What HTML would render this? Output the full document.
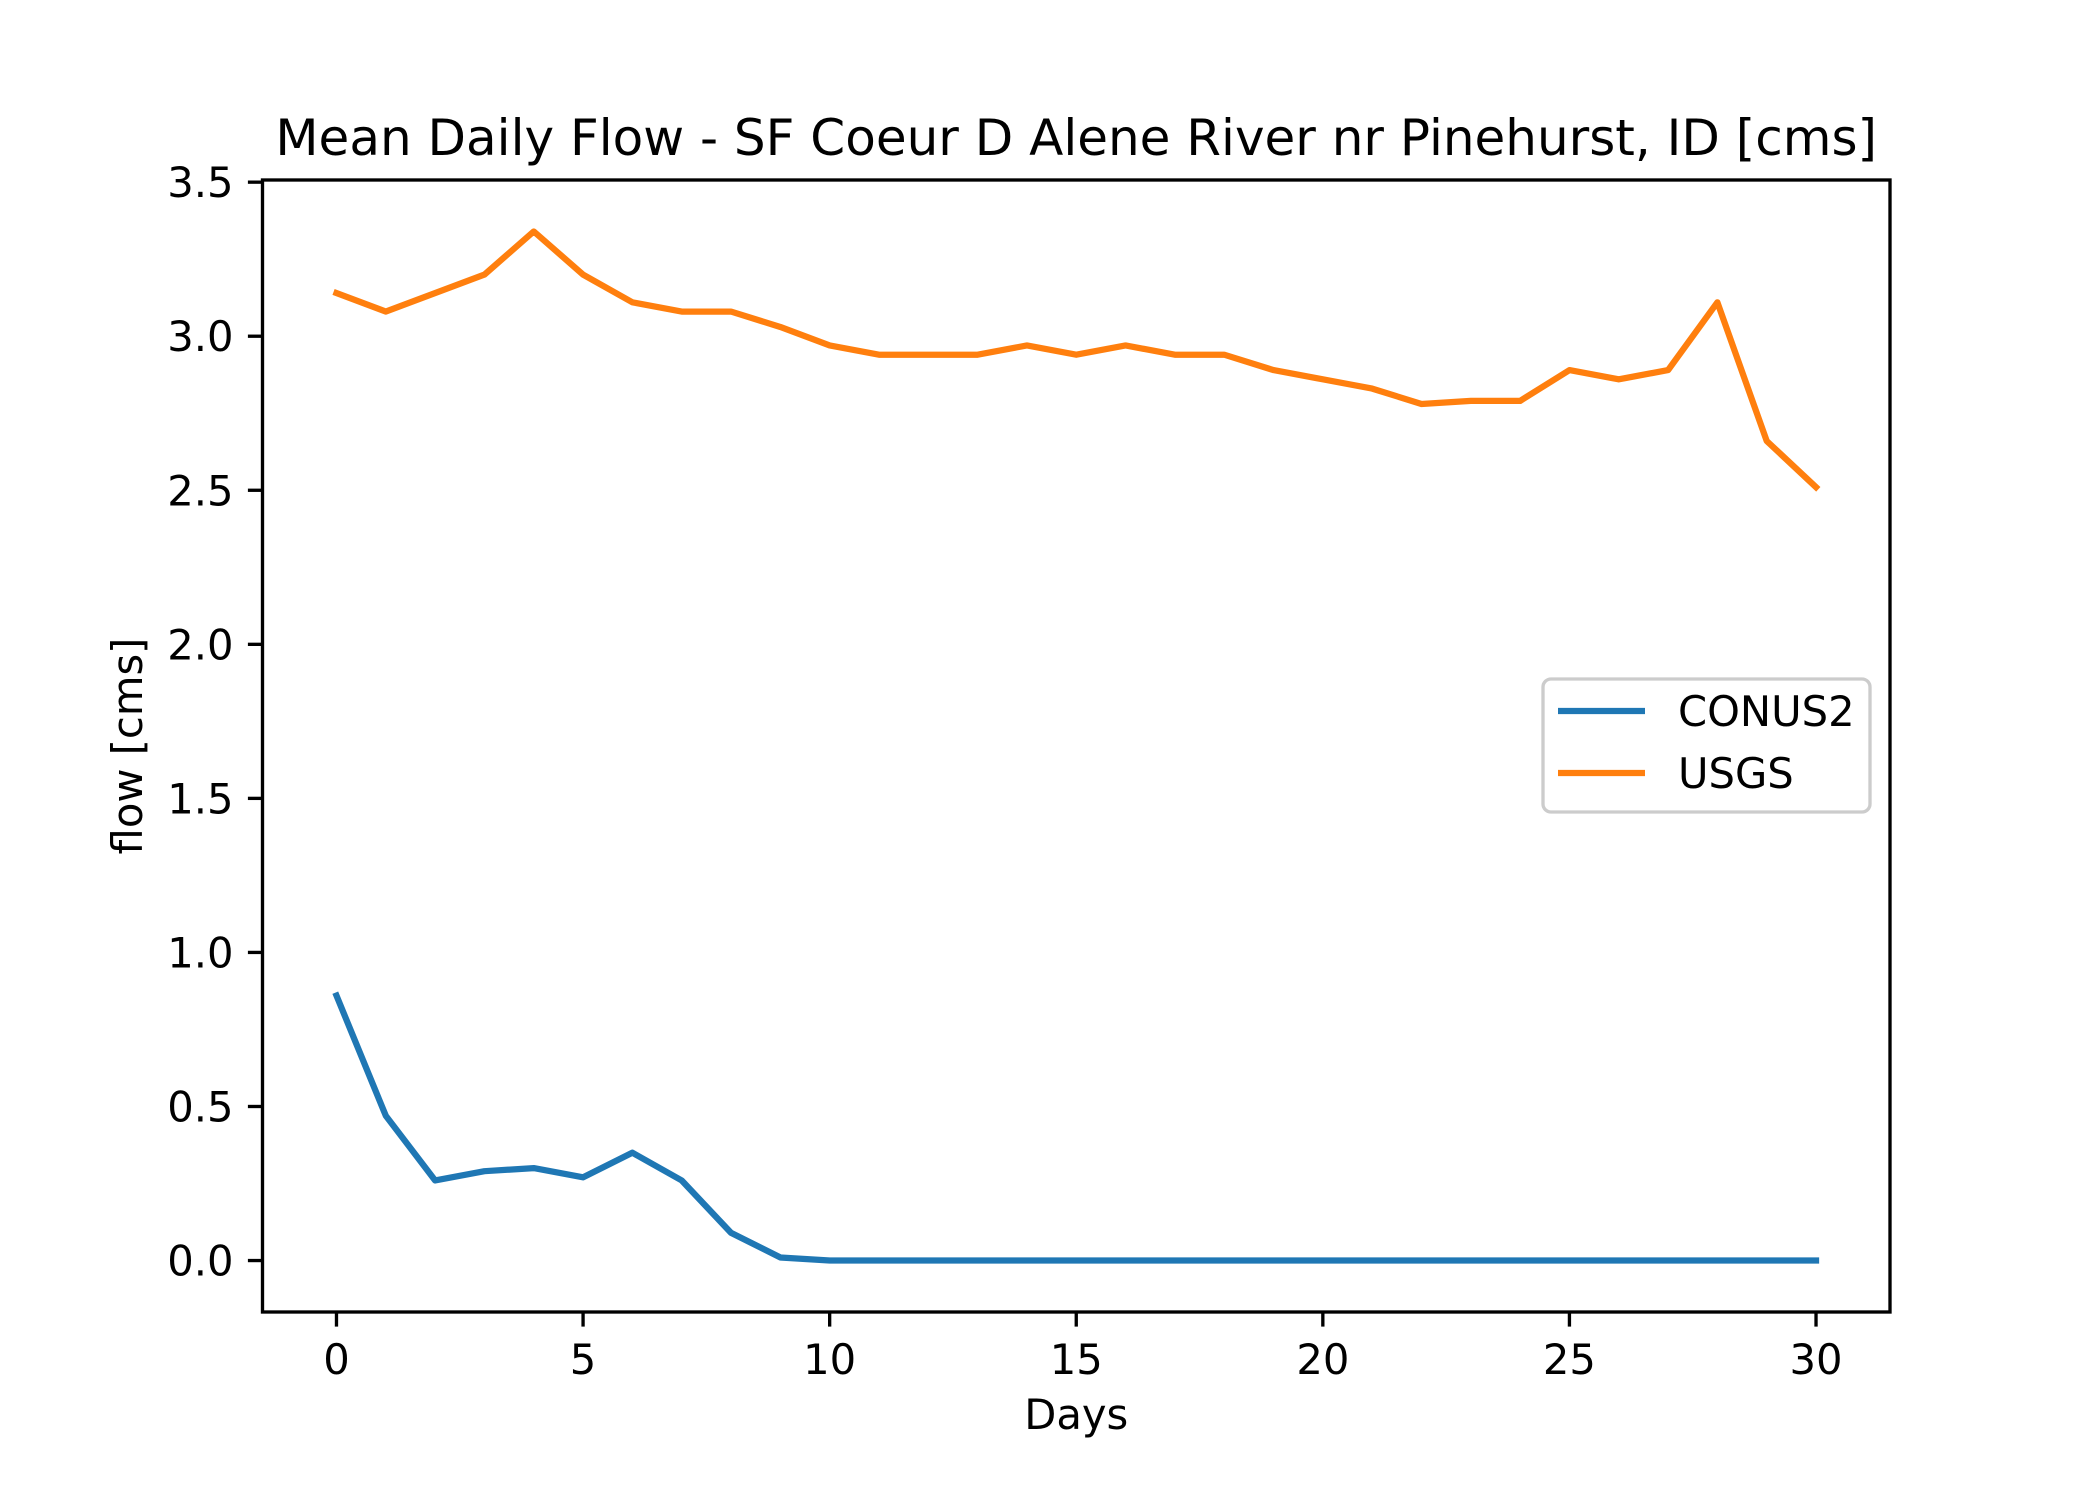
<!DOCTYPE html>
<html><head><meta charset="utf-8"><style>
html,body{margin:0;padding:0;background:#fff}
svg text{font-family:"DejaVu Sans","Liberation Sans",sans-serif;fill:#000}
</style></head><body>
<svg width="2100" height="1500" viewBox="0 0 2100 1500" xmlns="http://www.w3.org/2000/svg">
<rect width="2100" height="1500" fill="#fff"/>
<g id="plot"></g>
</svg>
<script>
const days=[0,1,2,3,4,5,6,7,8,9,10,11,12,13,14,15,16,17,18,19,20,21,22,23,24,25,26,27,28,29,30];
const usgs=[3.14,3.08,3.14,3.20,3.34,3.20,3.11,3.08,3.08,3.03,2.97,2.94,2.94,2.94,2.97,2.94,2.97,2.94,2.94,2.89,2.86,2.83,2.78,2.79,2.79,2.89,2.86,2.89,3.11,2.66,2.51];
const conus=[0.86,0.47,0.26,0.29,0.30,0.27,0.35,0.26,0.09,0.01,0,0,0,0,0,0,0,0,0,0,0,0,0,0,0,0,0,0,0,0,0];
const xTicks=[0,5,10,15,20,25,30];
const yTicks=[0.0,0.5,1.0,1.5,2.0,2.5,3.0,3.5];
const L=262.5,R=1890,T=180,B=1312;
const xmin=-1.5,xmax=31.5,ymin=-0.167,ymax=3.507;
const sx=v=>L+(v-xmin)/(xmax-xmin)*(R-L);
const sy=v=>B-(v-ymin)/(ymax-ymin)*(B-T);
const NS='http://www.w3.org/2000/svg';
const g=document.getElementById('plot');
function mk(tag,attrs,parent){const e=document.createElementNS(NS,tag);for(const k in attrs)e.setAttribute(k,attrs[k]);(parent||g).appendChild(e);return e;}
function line(xs,ys,color,name){
 const p=mk('polyline',{points:xs.map((x,i)=>sx(x)+','+sy(ys[i])).join(' '),fill:'none',stroke:color,'stroke-width':6.25,'stroke-linejoin':'round','stroke-linecap':'square'});
 
 
}
line(days,conus,'#1f77b4','conus2-line');
line(days,usgs,'#ff7f0e','usgs-line');
const frame=mk('rect',{x:L,y:T,width:R-L,height:B-T,fill:'none',stroke:'#000','stroke-width':3.33});


xTicks.forEach(v=>{
 const t=mk('line',{x1:sx(v),x2:sx(v),y1:B,y2:B+14.6,stroke:'#000','stroke-width':3.33});
 
 
 const tx=mk('text',{x:sx(v),y:B+62,'font-size':41.7,'text-anchor':'middle'});
 tx.textContent=v;
 
 
});
yTicks.forEach(v=>{
 const t=mk('line',{x1:L-14.6,x2:L,y1:sy(v),y2:sy(v),stroke:'#000','stroke-width':3.33});
 
 
 const tx=mk('text',{x:L-29,y:sy(v)+15,'font-size':41.7,'text-anchor':'end'});
 tx.textContent=v.toFixed(1);
 
 
});
const title=mk('text',{x:(L+R)/2,y:155,'font-size':50,'text-anchor':'middle'});
title.textContent='Mean Daily Flow - SF Coeur D Alene River nr Pinehurst, ID [cms]';


const xl=mk('text',{x:(L+R)/2,y:B+117,'font-size':41.7,'text-anchor':'middle'});
xl.textContent='Days';


const yl=mk('text',{x:0,y:0,'font-size':41.7,'text-anchor':'middle',transform:'translate(142,'+((T+B)/2)+') rotate(-90)'});
yl.textContent='flow [cms]';


const lg=mk('g',{});


mk('rect',{x:1543,y:679,width:327,height:133,rx:8,fill:'#fff','fill-opacity':0.8,stroke:'#ccc','stroke-width':3.33},lg);
[['CONUS2','#1f77b4',711],['USGS','#ff7f0e',773]].forEach(([n,c,y])=>{
 const s=mk('line',{x1:1558,x2:1645,y1:y,y2:y,stroke:c,'stroke-width':6.25},lg);
 
 
 const t=mk('text',{x:1678,y:y+15,'font-size':41.7},lg);
 t.textContent=n;
 
 
});
</script>
</body></html>
